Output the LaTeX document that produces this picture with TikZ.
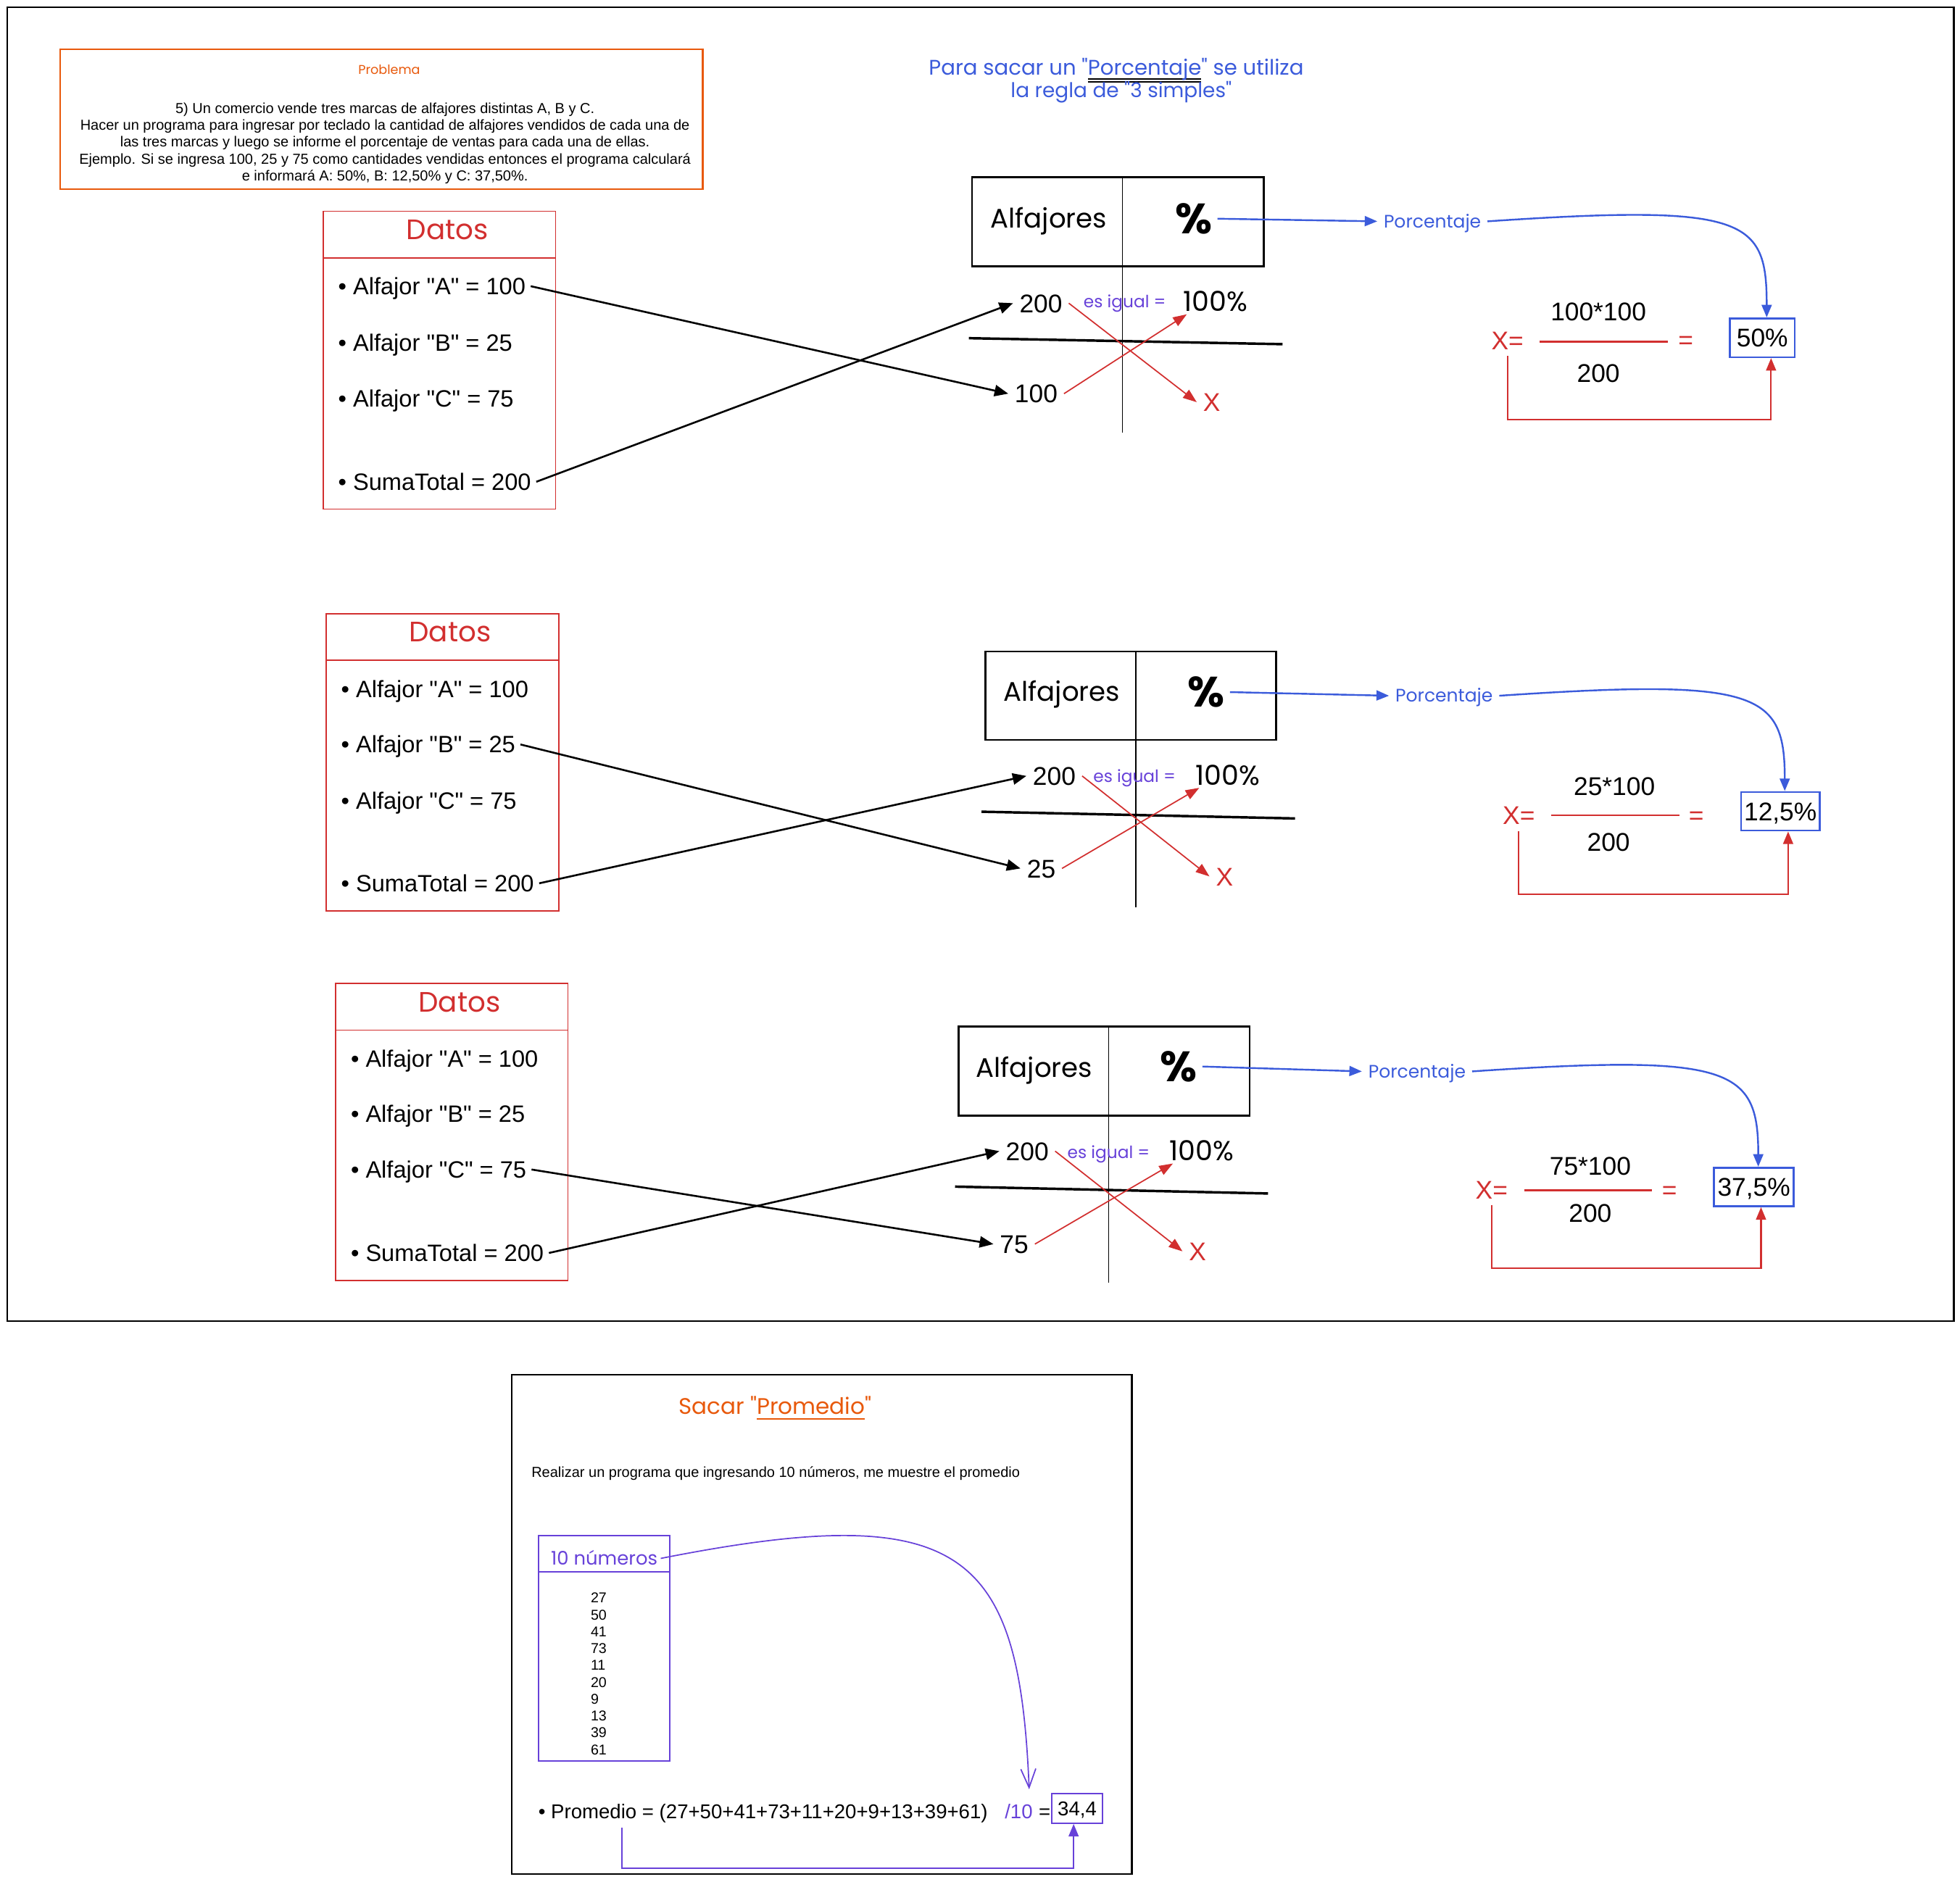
\documentclass[tikz,border=0pt]{standalone}
\usepackage{fontspec}
\setmainfont{Liberation Sans}[Ligatures=TeXOff]
\newfontfamily\hand{Poppins}
\usetikzlibrary{arrows.meta,calc}
\definecolor{cred}{HTML}{D22F2F}
\definecolor{corange}{HTML}{E8590C}
\definecolor{cblue}{HTML}{3B5BDB}
\definecolor{cpurple}{HTML}{6741D9}
\newcommand\fsz[1]{\fontsize{#1}{#1}\selectfont}
\newcommand\fszb[2]{\fontsize{#1}{#2}\selectfont}
\newsavebox\ulbox
\newcommand\dblul[1]{\sbox\ulbox{#1}\rlap{\color{black}\rule[-3.6pt]{\wd\ulbox}{1.1pt}}\rlap{\color{black}\rule[-6.1pt]{\wd\ulbox}{1.1pt}}\usebox\ulbox}
\newcommand\orul[1]{\sbox\ulbox{#1}\rlap{\color{corange}\rule[-4pt]{\wd\ulbox}{1.2pt}}\usebox\ulbox}
\begin{document}
\begin{tikzpicture}[x=1pt,y=-1pt,
  frame/.style={line width=1.3pt,draw=black},
  datbox/.style={draw=cred,line width=1pt},
  tbl/.style={line width=1.6pt},
  divl/.style={line width=1pt},
  crossl/.style={line width=2pt},
  item/.style={font=\fsz{18.9},anchor=west,inner xsep=4pt,inner ysep=0pt,text height=13.5pt,text depth=0pt},
  num/.style={font=\fsz{20.5},inner sep=5pt,text height=14.7pt,text depth=0pt},
  numred/.style={num,text=cred},
  dtitle/.style={font=\hand\fsz{22.5},text=cred,inner sep=0pt,text height=15.8pt,text depth=0pt},
  alf/.style={font=\hand\fsz{21.5},inner sep=0pt,text height=15pt,text depth=0pt},
  pcts/.style={font=\hand\bfseries\fsz{34},inner xsep=4pt,inner ysep=0pt,text height=24pt,text depth=0pt},
  esig/.style={font=\hand\fsz{13.5},text=cpurple,inner sep=0pt,text height=9.5pt,text depth=0pt},
  hund/.style={font=\hand\fsz{22},inner sep=2pt,text height=15.4pt,text depth=0pt},
  plab/.style={font=\hand\fsz{14.5},text=cblue,inner sep=5pt,text height=10.2pt,text depth=0pt},
  rbox/.style={draw=cblue,line width=1.5pt,font=\fsz{20.5},inner sep=0pt,text height=14.7pt,text depth=0pt},
  blkarr/.style={line width=1.5pt,-{Triangle[length=11pt,width=9pt]}},
  redarr/.style={draw=cred,line width=1pt,-{Triangle[length=11pt,width=8pt]}},
  bluearr/.style={draw=cblue,line width=1.4pt,-{Triangle[length=10pt,width=8pt]}},
  redln/.style={draw=cred,line width=1.5pt},
  brk/.style={draw=cred,line width=1.2pt,-{Triangle[length=10pt,width=8pt]}},
  purp/.style={draw=cpurple,line width=1.2pt}
]
\useasboundingbox (0,0) rectangle (1568,1505.4);
\fill[white] (0,0) rectangle (1568,1505.4);

% main frame
\draw[frame] (5.6,5.8) rectangle (1563,1057);

% Problema box
\draw[draw=corange,line width=1.2pt] (48.1,39.4) rectangle (562.2,151.2);
\node[font=\hand\fsz{10.2},text=corange,inner sep=0pt] (ptitle) at (311.4,55.9) {Problema};
\node[font=\fszb{11.6}{13.5},align=center,inner sep=0pt] (pbody) at (308,114.6)
 {5) Un comercio vende tres marcas de alfajores distintas A, B y C.\\
  Hacer un programa para ingresar por teclado la cantidad de alfajores vendidos de cada una de\\
  las tres marcas y luego se informe el porcentaje de ventas para cada una de ellas.\\
  Ejemplo. Si se ingresa 100, 25 y 75 como cantidades vendidas entonces el programa calculará\\
  e informará A: 50\%, B: 12,50\% y C: 37,50\%.};

% top blue text
\node[font=\hand\fsz{16.9},text=cblue,inner sep=0pt,text height=11.8pt,text depth=0pt] (top1) at (893,54.1) {Para sacar un "\dblul{Porcentaje}" se utiliza};
\node[font=\hand\fsz{16.2},text=cblue,inner sep=0pt,text height=11.3pt,text depth=0pt] (top2) at (897,72.5) {la regla de "3 simples"};

%%%%%%%% SECTION 1
\draw[datbox] (258.5,169) rectangle (444.5,407.4);
\draw[datbox] (258.5,206.3) -- (444.5,206.3);
\node[dtitle] (dt1) at (358,183.7) {Datos};
\node[item] (a1) at (266.4,229) {• Alfajor "A" = 100};
\node[item] (b1) at (266.4,274.2) {• Alfajor "B" = 25};
\node[item] (c1) at (266.4,318.7) {• Alfajor "C" = 75};
\node[item] (s1) at (266.4,385.5) {• SumaTotal = 200};
\draw[tbl] (777.6,141.8) rectangle (1011,213.3);
\draw[divl] (897.9,141.8) -- (897.9,346.4);
\draw[crossl] (775.1,270.6) -- (1026,275.4);
\node[alf] (al1) at (838.9,175) {Alfajores};
\node[pcts] (pc1) at (955,175) {\%};
\node[num] (t1) at (832.7,242.6) {200};
\node[esig] (eq1) at (899.8,241.6) {es igual =};
\node[hund] (hu1) at (972.3,241.6) {100\%};
\node[num] (v1) at (828.9,315) {100};
\node[numred] (x1) at (969.4,321.8) {X};
\draw[blkarr] (a1.east) -- (v1.west);
\draw[blkarr] (s1.east) -- (t1.west);
\draw[redarr] (t1.east) -- (x1.west);
\draw[redarr] (v1.east) -- ([xshift=5pt]hu1.south west);
\node[plab] (pl1) at (1145.9,177.1) {Porcentaje};
\draw[bluearr] (pc1.east) -- (pl1.west);
\node[rbox,minimum width=51.7pt,minimum height=31.1pt] (r1) at (1409.85,270.25) {50\%};
\draw[bluearr] (pl1.east) .. controls +(208,-14) and +(0,-79) .. ([xshift=3.5pt]r1.north);
\node[numred] (xe1) at (1206,272.3) {X=};
\node[num] (nu1) at (1278.7,249.4) {100*100};
\draw[redln] (1231.4,273.4) -- (1334,273.4);
\node[numred] (er1) at (1348.6,272) {=};
\node[num] (de1) at (1278.7,298.3) {200};
\draw[brk] (xe1.south) -- ++(0,51) -| ([xshift=7pt]r1.south);

%%%%%%%% SECTION 2
\draw[datbox] (261,491.2) rectangle (446.9,728.8);
\draw[datbox] (261,528.2) -- (446.9,528.2);
\node[dtitle] (dt2) at (360,505.4) {Datos};
\node[item] (a2) at (268.7,551.6) {• Alfajor "A" = 100};
\node[item] (b2) at (268.7,595.7) {• Alfajor "B" = 25};
\node[item] (c2) at (268.7,640.4) {• Alfajor "C" = 75};
\node[item] (s2) at (268.7,706.8) {• SumaTotal = 200};
\draw[tbl] (788.4,521.3) rectangle (1021,592.1);
\draw[divl] (908.6,521.3) -- (908.6,725.9);
\draw[crossl] (785.2,649.5) -- (1036,654.9);
\node[alf] (al2) at (849.4,553.8) {Alfajores};
\node[pcts] (pc2) at (965,553.8) {\%};
\node[num] (t2) at (843.4,620.9) {200};
\node[esig] (eq2) at (907.6,621.5) {es igual =};
\node[hund] (hu2) at (982.3,620.5) {100\%};
\node[num] (v2) at (833,694.9) {25};
\node[numred] (x2) at (979.6,701.3) {X};
\draw[blkarr] (b2.east) -- (v2.west);
\draw[blkarr] (s2.east) -- (t2.west);
\draw[redarr] (t2.east) -- (x2.west);
\draw[redarr] (v2.east) -- ([xshift=5pt]hu2.south west);
\node[plab] (pl2) at (1155.3,556.7) {Porcentaje};
\draw[bluearr] (pc2.east) -- (pl2.west);
\node[rbox,minimum width=62.8pt,minimum height=30.9pt] (r2) at (1424.3,649.15) {12,5\%};
\draw[bluearr] (pl2.east) .. controls +(208,-14) and +(0,-79) .. ([xshift=3.5pt]r2.north);
\node[numred] (xe2) at (1215,652.4) {X=};
\node[num] (nu2) at (1291.5,629.2) {25*100};
\draw[redln] (1241,652.4) -- (1343.3,652.4);
\node[numred] (er2) at (1357,652.4) {=};
\node[num] (de2) at (1286.8,673.7) {200};
\draw[brk] (xe2.south) -- ++(0,50.6) -| ([xshift=6.2pt]r2.south);

%%%%%%%% SECTION 3
\draw[datbox] (268.3,786.7) rectangle (454.3,1024.6);
\draw[datbox] (268.3,824.3) -- (454.3,824.3);
\node[dtitle] (dt3) at (367.6,802) {Datos};
\node[item] (a3) at (276.5,847) {• Alfajor "A" = 100};
\node[item] (b3) at (276.5,891.4) {• Alfajor "B" = 25};
\node[item] (c3) at (276.5,935.8) {• Alfajor "C" = 75};
\node[item] (s3) at (276.5,1002.6) {• SumaTotal = 200};
\draw[tbl] (766.7,821.6) rectangle (999.7,892.7);
\draw[divl] (886.9,821.6) -- (886.9,1026.1);
\draw[crossl] (764,949.5) -- (1014.4,955);
\node[alf] (al3) at (827.3,854.4) {Alfajores};
\node[pcts] (pc3) at (942.9,853.4) {\%};
\node[num] (t3) at (821.8,921.1) {200};
\node[esig] (eq3) at (886.9,922) {es igual =};
\node[hund] (hu3) at (961.2,921.1) {100\%};
\node[num] (v3) at (811.3,995.5) {75};
\node[numred] (x3) at (958,1001.3) {X};
\draw[blkarr] (c3.east) -- (v3.west);
\draw[blkarr] (s3.east) -- (t3.west);
\draw[redarr] (t3.east) -- (x3.west);
\draw[redarr] (v3.east) -- ([xshift=5pt]hu3.south west);
\node[plab] (pl3) at (1133.6,857.3) {Porcentaje};
\draw[bluearr] (pc3.east) -- (pl3.west);
\node[rbox,minimum width=63.8pt,minimum height=30.9pt] (r3) at (1403.1,949.75) {37,5\%};
\draw[bluearr] (pl3.east) .. controls +(208,-14) and +(0,-79) .. ([xshift=3.5pt]r3.north);
\node[numred] (xe3) at (1193.3,952) {X=};
\node[num] (nu3) at (1272.2,932.7) {75*100};
\draw[redln] (1219.4,952.6) -- (1321.7,952.6);
\node[numred] (er3) at (1335.5,952) {=};
\node[num] (de3) at (1272.2,970.4) {200};
\draw[brk] (xe3.south) -- ++(0,50) -| ([xshift=5.7pt]r3.south);

%%%%%%%% PROMEDIO
\draw[frame] (409.6,1100) rectangle (905.5,1499.7);
\node[font=\hand\fsz{18},text=corange,inner sep=0pt,text height=12.6pt,text depth=0pt] (sp) at (620,1125.6) {Sacar "\orul{Promedio}"};
\node[font=\fsz{11.6},anchor=west,inner sep=0pt,text height=8.3pt,text depth=0pt] (rz) at (425,1178) {Realizar un programa que ingresando 10 números, me muestre el promedio};
\draw[purp] (431,1228.7) rectangle (536,1409.3);
\draw[purp] (431,1257.5) -- (536,1257.5);
\node[font=\hand\fsz{15},text=cpurple,inner xsep=2.4pt,inner ysep=0pt,text height=10.5pt,text depth=0pt] (tn) at (483.4,1247) {10 números};
\node[font=\fszb{11.4}{13.48},align=left,anchor=west,inner sep=0pt] (nums) at (472.4,1339.35) {27\\50\\41\\73\\11\\20\\9\\13\\39\\61};
\node[font=\fsz{16},anchor=west,inner sep=0pt,text height=11.5pt,text depth=0pt] (pm) at (430.6,1449.5) {• Promedio = (27+50+41+73+11+20+9+13+39+61)};
\node[font=\fsz{16},text=cpurple,inner xsep=2pt,inner ysep=11.8pt,text height=11.5pt,text depth=0pt] (d10) at (815,1449.5) {/10};
\node[font=\fsz{16},inner sep=0pt,text height=11.5pt,text depth=0pt] (eqp) at (835.7,1449.5) {=};
\node[draw=cpurple,line width=1.2pt,minimum width=40.9pt,minimum height=23.6pt,inner sep=0pt,font=\fsz{16},text height=11.5pt,text depth=0pt] (res) at (861.75,1447.1) {34,4};
\draw[purp,line width=1pt,-{Straight Barb[length=15pt,width=12pt]}] (tn.east) .. controls +(241.7,-47.8) and +(-8,-192) .. ([xshift=-5pt]d10.north east);
\draw[purp,-{Triangle[length=10pt,width=8pt]}] ([xshift=67.1pt,yshift=-7pt]pm.south west) -- ++(0,32.3) -| ([xshift=-2.85pt]res.south);
\end{tikzpicture}
\end{document}
